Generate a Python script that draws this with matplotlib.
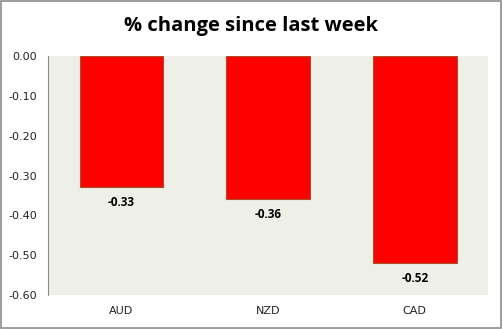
import matplotlib
matplotlib.use("Agg")
import matplotlib.pyplot as plt
from matplotlib.patches import Rectangle

currencies = ["AUD", "NZD", "CAD"]
changes = [-0.33, -0.36, -0.52]
yticks = [0.0, -0.1, -0.2, -0.3, -0.4, -0.5, -0.6]

fig = plt.figure(figsize=(5.03, 3.29), dpi=100)
fig.patch.set_facecolor("white")
fig.patches.append(Rectangle((0.002, 0.003), 0.994, 0.994, transform=fig.transFigure,
                             fill=False, edgecolor="#8c8c8c", linewidth=1.2))

ax = fig.add_axes([0.0954, 0.103, 0.875, 0.727])
ax.set_facecolor("#eef0e8")

x = range(len(currencies))
ax.bar(x, changes, width=0.57, color="#ff0000", edgecolor="#a5502a", linewidth=0.8)

for xi, v in zip(x, changes):
    ax.text(xi, v - 0.022, f"{v:.2f}", ha="center", va="top",
            fontsize=8.5, fontweight="bold", family="Open Sans")

ax.set_xlim(-0.5, 2.5)
ax.set_ylim(-0.6, 0.0)
ax.set_yticks(yticks)
ax.set_yticklabels([f"{t:.2f}" for t in yticks], fontsize=8, family="DejaVu Sans",
                   color="#222222")
ax.set_xticks(list(x))
ax.set_xticklabels(currencies, fontsize=8, family="DejaVu Sans", color="#222222")
ax.tick_params(axis="x", length=0, pad=8)
ax.tick_params(axis="y", length=0, pad=8)

for side in ["top", "right", "bottom"]:
    ax.spines[side].set_visible(False)
ax.spines["left"].set_color("#8c8c8c")

fig.text(0.5, 0.922, "% change since last week", ha="center", va="center",
         fontsize=14.5, fontweight="bold", family="Open Sans")

fig.savefig("out.png", dpi=100)
